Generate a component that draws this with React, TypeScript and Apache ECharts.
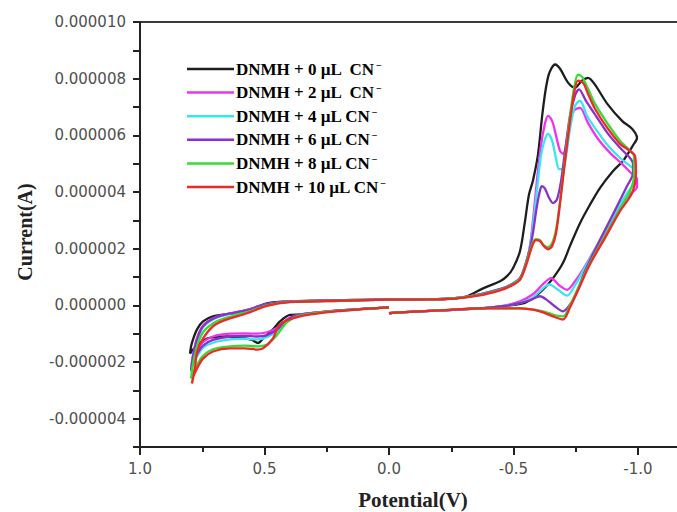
import React, { useEffect, useRef } from "react";
import * as echarts from "echarts";

// Legend labels and colours
const seriesLabels = [
  "DNMH + 0 µL  CN",
  "DNMH + 2 µL  CN",
  "DNMH + 4 µL CN",
  "DNMH + 6 µL CN",
  "DNMH + 8 µL CN",
  "DNMH + 10 µL CN",
];
const chargeMark = "−";
const seriesColors = ["#1e1e1e", "#f032f0", "#38e6f0", "#8a32c8", "#32de32", "#f02828"];

// Each curve: [potential (V), current (µA)] in scan order
const cv0: [number, number][] = [
  [0.0, -0.07], [0.197, -0.18], [0.357, -0.32], [0.398, -0.34], [0.438, -0.57], [0.466, -0.85], [0.506, -1.17], [0.526, -1.33], [0.55, -1.22], [0.6, -1.12], [0.65, -1.1], [0.7, -1.12], [0.731, -1.17], [0.759, -1.33], [0.787, -1.56], [0.799, -1.7],
  [0.795, -1.45], [0.787, -1.2], [0.771, -0.85], [0.747, -0.57], [0.707, -0.39], [0.627, -0.28], [0.558, -0.14], [0.49, 0.07], [0.398, 0.14], [0.197, 0.18], [0.0, 0.21], [-0.165, 0.21], [-0.265, 0.25], [-0.313, 0.32], [-0.378, 0.6], [-0.446, 0.85], [-0.474, 1.03], [-0.498, 1.31], [-0.526, 1.91], [-0.545, 2.9], [-0.562, 3.9], [-0.578, 4.4], [-0.598, 5.3], [-0.618, 6.9], [-0.64, 8.1], [-0.667, 8.5], [-0.687, 8.35], [-0.719, 7.86], [-0.747, 7.68], [-0.775, 7.93], [-0.799, 8.03], [-0.827, 7.79], [-0.876, 7.12], [-0.936, 6.51], [-0.976, 6.23], [-0.996, 5.91],
  [-0.98, 5.65], [-0.94, 5.1], [-0.9, 4.74], [-0.847, 4.14], [-0.807, 3.55], [-0.767, 2.9], [-0.727, 2.1], [-0.699, 1.5], [-0.659, 0.96], [-0.618, 0.55], [-0.578, 0.25], [-0.538, 0.07], [-0.365, -0.11], [-0.205, -0.18], [-0.044, -0.25], [0.0, -0.28],
];
const cv2: [number, number][] = [
  [0.0, -0.07], [0.197, -0.18], [0.357, -0.32], [0.41, -0.5], [0.45, -0.8], [0.49, -0.95], [0.53, -1.0], [0.578, -0.99], [0.639, -1.0], [0.707, -1.1], [0.747, -1.3], [0.771, -1.6], [0.787, -1.95], [0.795, -2.23],
  [0.787, -1.75], [0.771, -1.15], [0.747, -0.72], [0.707, -0.46], [0.659, -0.32], [0.57, -0.16], [0.49, 0.04], [0.398, 0.13], [0.197, 0.17], [0.0, 0.2], [-0.165, 0.21], [-0.265, 0.25], [-0.365, 0.39], [-0.446, 0.57], [-0.486, 0.71], [-0.526, 0.96], [-0.55, 1.5], [-0.566, 2.1],
  [-0.578, 2.97], [-0.594, 4.39], [-0.61, 5.63], [-0.627, 6.44], [-0.639, 6.69], [-0.655, 6.51], [-0.671, 5.98], [-0.687, 5.45], [-0.699, 5.35], [-0.711, 5.63], [-0.723, 6.34], [-0.743, 6.87], [-0.767, 6.97], [-0.799, 6.44], [-0.839, 5.88], [-0.888, 5.38], [-0.936, 4.99], [-0.972, 4.67], [-0.996, 4.46],
  [-0.996, 4.18], [-0.96, 3.86], [-0.9, 3.04], [-0.839, 2.16], [-0.787, 1.38], [-0.747, 0.85], [-0.715, 0.55], [-0.683, 0.71], [-0.651, 0.96], [-0.618, 0.74], [-0.578, 0.39], [-0.526, 0.14], [-0.446, -0.04], [-0.365, -0.11], [-0.205, -0.18], [-0.044, -0.25], [0.0, -0.28],
];
const cv4: [number, number][] = [
  [0.0, -0.07], [0.197, -0.18], [0.357, -0.34], [0.41, -0.55], [0.45, -0.92], [0.49, -1.12], [0.53, -1.2], [0.578, -1.18], [0.639, -1.2], [0.707, -1.32], [0.747, -1.5], [0.771, -1.8], [0.787, -2.1], [0.795, -2.34],
  [0.787, -1.85], [0.771, -1.25], [0.747, -0.78], [0.707, -0.5], [0.659, -0.35], [0.57, -0.18], [0.49, 0.03], [0.398, 0.13], [0.197, 0.17], [0.0, 0.2], [-0.165, 0.21], [-0.265, 0.25], [-0.365, 0.39], [-0.446, 0.57], [-0.486, 0.71], [-0.526, 0.96], [-0.55, 1.5], [-0.566, 2.05],
  [-0.578, 2.8], [-0.594, 4.04], [-0.61, 5.27], [-0.627, 5.88], [-0.639, 6.05], [-0.655, 5.81], [-0.671, 5.17], [-0.683, 4.81], [-0.699, 4.81], [-0.711, 5.27], [-0.727, 6.23], [-0.747, 7.04], [-0.767, 7.22], [-0.795, 6.69], [-0.835, 6.16], [-0.88, 5.63], [-0.928, 5.2], [-0.968, 4.92], [-0.988, 4.74],
  [-0.988, 4.39], [-0.956, 3.96], [-0.896, 3.08], [-0.835, 2.09], [-0.783, 1.27], [-0.747, 0.71], [-0.715, 0.34], [-0.679, 0.55], [-0.643, 0.74], [-0.61, 0.53], [-0.574, 0.25], [-0.518, 0.07], [-0.446, -0.04], [-0.365, -0.11], [-0.205, -0.18], [-0.044, -0.25], [0.0, -0.28],
];
const cv6: [number, number][] = [
  [0.0, -0.07], [0.197, -0.18], [0.357, -0.33], [0.41, -0.52], [0.45, -0.86], [0.49, -1.05], [0.53, -1.1], [0.578, -1.08], [0.639, -1.1], [0.707, -1.22], [0.747, -1.42], [0.771, -1.72], [0.787, -2.05], [0.795, -2.3],
  [0.787, -1.8], [0.771, -1.2], [0.747, -0.74], [0.707, -0.47], [0.659, -0.33], [0.57, -0.17], [0.49, 0.04], [0.398, 0.13], [0.197, 0.17], [0.0, 0.2], [-0.165, 0.21], [-0.265, 0.25], [-0.365, 0.39], [-0.446, 0.57], [-0.486, 0.71], [-0.526, 0.96], [-0.55, 1.5], [-0.566, 2.0],
  [-0.578, 2.55], [-0.594, 3.5], [-0.606, 4.04], [-0.614, 4.21], [-0.627, 4.11], [-0.643, 3.79], [-0.659, 3.61], [-0.675, 3.75], [-0.691, 4.39], [-0.707, 5.45], [-0.727, 6.69], [-0.747, 7.4], [-0.763, 7.62], [-0.791, 7.22], [-0.831, 6.69], [-0.88, 6.05], [-0.928, 5.56], [-0.968, 5.2], [-0.98, 4.99],
  [-0.98, 4.67], [-0.956, 4.21], [-0.9, 3.22], [-0.839, 2.16], [-0.787, 1.2], [-0.747, 0.32], [-0.719, -0.07], [-0.699, -0.21], [-0.667, -0.04], [-0.631, 0.21], [-0.606, 0.32], [-0.566, 0.18], [-0.506, 0.04], [-0.446, -0.04], [-0.365, -0.11], [-0.205, -0.18], [-0.044, -0.25], [0.0, -0.28],
];
const cv8: [number, number][] = [
  [0.0, -0.07], [0.197, -0.19], [0.357, -0.36], [0.41, -0.6], [0.45, -1.05], [0.49, -1.38], [0.53, -1.45], [0.578, -1.42], [0.639, -1.45], [0.707, -1.55], [0.747, -1.78], [0.771, -2.1], [0.787, -2.4], [0.795, -2.58],
  [0.787, -2.05], [0.771, -1.45], [0.747, -0.95], [0.707, -0.64], [0.659, -0.45], [0.57, -0.24], [0.49, 0.0], [0.398, 0.12], [0.197, 0.16], [0.0, 0.2], [-0.165, 0.21], [-0.265, 0.25], [-0.365, 0.37], [-0.446, 0.55], [-0.486, 0.69], [-0.526, 0.93], [-0.55, 1.45], [-0.566, 1.91],
  [-0.578, 2.23], [-0.59, 2.34], [-0.606, 2.3], [-0.622, 2.12], [-0.639, 2.05], [-0.655, 2.19], [-0.671, 2.69], [-0.687, 3.68], [-0.707, 5.17], [-0.727, 6.69], [-0.743, 7.65], [-0.759, 8.14], [-0.775, 8.07], [-0.799, 7.65], [-0.827, 7.12], [-0.876, 6.44], [-0.928, 5.81], [-0.968, 5.45], [-0.984, 5.27],
  [-0.984, 4.57], [-0.968, 4.04], [-0.928, 3.4], [-0.867, 2.44], [-0.807, 1.49], [-0.759, 0.6], [-0.727, 0.0], [-0.699, -0.39], [-0.667, -0.35], [-0.618, -0.21], [-0.526, -0.11], [-0.365, -0.11], [-0.205, -0.18], [-0.044, -0.25], [0.0, -0.28],
];
const cv10: [number, number][] = [
  [0.0, -0.07], [0.197, -0.2], [0.357, -0.39], [0.438, -0.67], [0.466, -1.17], [0.506, -1.52], [0.53, -1.56], [0.578, -1.52], [0.639, -1.52], [0.707, -1.63], [0.747, -1.88], [0.771, -2.23], [0.787, -2.55], [0.791, -2.76],
  [0.779, -2.2], [0.771, -1.65], [0.747, -1.17], [0.707, -0.74], [0.659, -0.52], [0.57, -0.28], [0.49, -0.02], [0.398, 0.11], [0.197, 0.16], [0.0, 0.2], [-0.165, 0.21], [-0.265, 0.24], [-0.365, 0.35], [-0.446, 0.53], [-0.486, 0.67], [-0.526, 0.9], [-0.55, 1.4], [-0.566, 1.85],
  [-0.578, 2.16], [-0.59, 2.3], [-0.606, 2.27], [-0.622, 2.09], [-0.639, 1.98], [-0.655, 2.09], [-0.671, 2.55], [-0.687, 3.61], [-0.707, 5.1], [-0.727, 6.51], [-0.743, 7.47], [-0.759, 7.93], [-0.779, 7.86], [-0.799, 7.47], [-0.827, 6.94], [-0.876, 6.27], [-0.928, 5.7], [-0.968, 5.45], [-0.988, 5.27],
  [-0.992, 4.67], [-0.976, 3.96], [-0.928, 3.33], [-0.867, 2.37], [-0.807, 1.45], [-0.759, 0.53], [-0.727, -0.07], [-0.699, -0.5], [-0.659, -0.39], [-0.606, -0.21], [-0.526, -0.11], [-0.365, -0.11], [-0.205, -0.18], [-0.044, -0.25], [0.0, -0.28],
];
const curves = [cv0, cv2, cv4, cv6, cv8, cv10];

// Axis extents (potential in V, current in A)
const xMin = -1.5;
const xMax = 1.0;
const xStep = 0.5;
const xLabelLimit = -1.0; // last potential label shown in the cropped frame
const yMin = -0.000005;
const yMax = 0.00001;
const yStep = 0.000001;

const xTitle = "Potential(V)";
const yTitle = "Current(A)";

const CHART_W = 780;
const CHART_H = 512;

export default function App() {
  const ref = useRef<HTMLDivElement>(null);

  useEffect(() => {
    if (!ref.current) return;
    const chart = echarts.init(ref.current, undefined, { renderer: "svg" });

    const legendTop = 69;
    const legendGap = 23.6;
    const legendGraphics: any[] = [];
    seriesLabels.forEach((label, i) => {
      const y = legendTop + i * legendGap;
      legendGraphics.push({
        type: "line",
        shape: { x1: 187, y1: y, x2: 234, y2: y },
        style: { stroke: seriesColors[i], lineWidth: 2.5 },
        z: 10,
      });
      legendGraphics.push({
        type: "text",
        x: 236,
        y: y,
        style: {
          text: `{a|${label}}{b|${chargeMark}}`,
          verticalAlign: "middle",
          align: "left",
          rich: {
            a: {
              fontFamily: '"Liberation Serif", "DejaVu Serif", serif',
              fontWeight: "bold",
              fontSize: 17,
              color: "#262626",
              lineHeight: 18,
            },
            b: {
              fontFamily: '"Liberation Serif", "DejaVu Serif", serif',
              fontWeight: "bold",
              fontSize: 10,
              color: "#262626",
              verticalAlign: "top",
              lineHeight: 18,
              padding: [0, 0, 8, 1],
            },
          },
        },
        z: 10,
      });
    });

    const option: any = {
      animation: false,
      backgroundColor: "#ffffff",
      grid: {
        left: 140,
        right: CHART_W - 762.5,
        top: 22,
        bottom: 65,
        show: true,
        borderColor: "#3a3a3a",
        borderWidth: 2,
        backgroundColor: "transparent",
        containLabel: false,
        outerBoundsMode: "none",
      },
      xAxis: {
        type: "value",
        min: xMin,
        max: xMax,
        interval: xStep,
        inverse: true,
        axisLine: { show: true, onZero: false, lineStyle: { color: "#222", width: 2 } },
        axisTick: { show: true, length: 8, lineStyle: { color: "#222", width: 2 } },
        minorTick: { show: true, splitNumber: 2, length: 5, lineStyle: { color: "#222", width: 2 } },
        splitLine: { show: false },
        axisLabel: {
          margin: 14,
          color: "#505050",
          fontSize: 15,
          fontFamily: '"DejaVu Sans", sans-serif',
          formatter: (v: number) => (v < xLabelLimit - 1e-9 ? "" : v.toFixed(1)),
        },
      },
      yAxis: {
        type: "value",
        min: yMin,
        max: yMax,
        interval: yStep,
        axisLine: { show: true, onZero: false, lineStyle: { color: "#222", width: 2 } },
        axisTick: { show: true, length: 7, lineStyle: { color: "#222", width: 2 } },
        splitLine: { show: false },
        axisLabel: {
          margin: 14,
          color: "#505050",
          fontSize: 15,
          fontFamily: '"DejaVu Sans", sans-serif',
          formatter: (v: number) => {
            const n = Math.round(v * 1e6);
            return n % 2 === 0 ? (n / 1e6).toFixed(6) : "";
          },
        },
      },
      series: curves.map((c, i) => ({
        name: seriesLabels[i] + chargeMark,
        type: "line",
        data: c.map(([v, a]) => [v, a * 1e-6]),
        showSymbol: false,
        symbol: "none",
        smooth: 0.3,
        z: 2 + i,
        lineStyle: { color: seriesColors[i], width: 2.3 },
        itemStyle: { color: seriesColors[i] },
      })),
      graphic: [
        {
          type: "text",
          x: 25,
          y: 232,
          rotation: Math.PI / 2,
          style: {
            text: yTitle,
            font: 'bold 20px "Liberation Serif", "DejaVu Serif", serif',
            fill: "#222",
            align: "center",
            verticalAlign: "middle",
          },
        },
        {
          type: "text",
          x: 413,
          y: 500,
          style: {
            text: xTitle,
            font: 'bold 21px "Liberation Serif", "DejaVu Serif", serif',
            fill: "#222",
            align: "center",
            verticalAlign: "middle",
          },
        },
        ...legendGraphics,
      ],
    };

    chart.setOption(option);
    return () => chart.dispose();
  }, []);

  return (
    <div
      style={{
        position: "fixed",
        left: 0,
        top: 0,
        width: 677,
        height: 512,
        overflow: "hidden",
        background: "#fff",
      }}
    >
      <div ref={ref} style={{ width: CHART_W, height: CHART_H }} />
    </div>
  );
}
